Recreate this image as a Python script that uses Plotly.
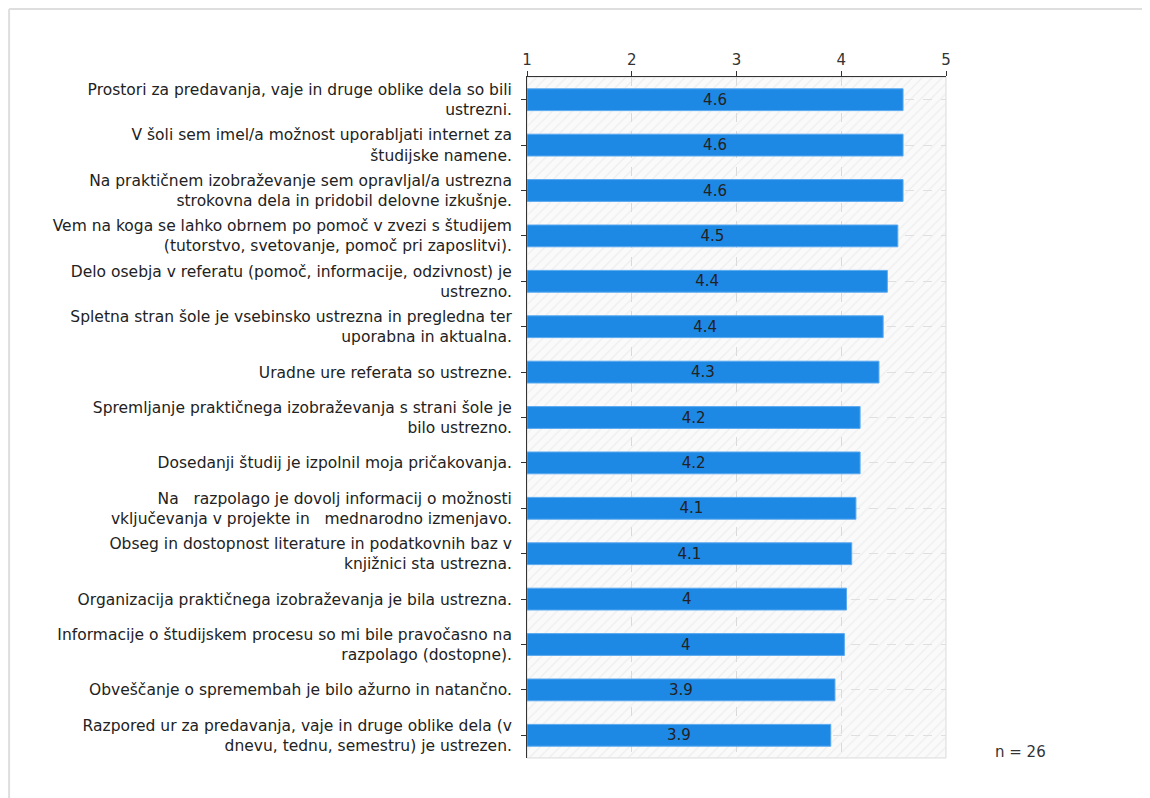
import plotly.graph_objects as go

categories = [
    "Prostori za predavanja, vaje in druge oblike dela so bili<br>ustrezni.",
    "V šoli sem imel/a možnost uporabljati internet za<br>študijske namene.",
    "Na praktičnem izobraževanje sem opravljal/a ustrezna<br>strokovna dela in pridobil delovne izkušnje.",
    "Vem na koga se lahko obrnem po pomoč v zvezi s študijem<br>(tutorstvo, svetovanje, pomoč pri zaposlitvi).",
    "Delo osebja v referatu (pomoč, informacije, odzivnost) je<br>ustrezno.",
    "Spletna stran šole je vsebinsko ustrezna in pregledna ter<br>uporabna in aktualna.",
    "Uradne ure referata so ustrezne.",
    "Spremljanje praktičnega izobraževanja s strani šole je<br>bilo ustrezno.",
    "Dosedanji študij je izpolnil moja pričakovanja.",
    "Na   razpolago je dovolj informacij o možnosti<br>vključevanja v projekte in   mednarodno izmenjavo.",
    "Obseg in dostopnost literature in podatkovnih baz v<br>knjižnici sta ustrezna.",
    "Organizacija praktičnega izobraževanja je bila ustrezna.",
    "Informacije o študijskem procesu so mi bile pravočasno na<br>razpolago (dostopne).",
    "Obveščanje o spremembah je bilo ažurno in natančno.",
    "Razpored ur za predavanja, vaje in druge oblike dela (v<br>dnevu, tednu, semestru) je ustrezen.",
]
values = [4.59, 4.59, 4.59, 4.54, 4.44, 4.40, 4.36, 4.18, 4.18, 4.14, 4.10, 4.05, 4.03, 3.94, 3.90]
labels = ["4.6", "4.6", "4.6", "4.5", "4.4", "4.4", "4.3", "4.2", "4.2", "4.1", "4.1", "4", "4", "3.9", "3.9"]
x_ticks = [1, 2, 3, 4, 5]
scale_min, scale_max = 1, 5
n_text = "n = 26"

FONT = "DejaVu Sans"

fig = go.Figure()

# hatched background band (decoration)
fig.add_trace(go.Bar(
    y=categories,
    x=[scale_max - scale_min] * len(categories),
    base=scale_min,
    orientation="h",
    width=1,
    marker=dict(
        color="rgba(0,0,0,0.02)",
        line=dict(width=0),
        pattern=dict(shape="/", fgcolor="#e2e2e2", bgcolor="rgba(0,0,0,0.02)",
                     size=7, solidity=0.18),
    ),
    hoverinfo="skip",
    showlegend=False,
))

fig.add_trace(go.Bar(
    y=categories,
    x=[v - scale_min for v in values],
    base=scale_min,
    orientation="h",
    width=0.48,
    marker=dict(color="#1e88e5", line=dict(color="#5aa9ef", width=1)),
    text=labels,
    textposition="inside",
    insidetextanchor="middle",
    textangle=0,
    constraintext="none",
    textfont=dict(family=FONT, size=15, color="#222222"),
    showlegend=False,
))

fig.update_layout(
    width=1142, height=790,
    margin=dict(l=519, r=204, t=69, b=40),
    paper_bgcolor="white",
    plot_bgcolor="white",
    barmode="overlay",
    font=dict(family=FONT, size=15, color="#333333"),
    xaxis=dict(
        side="top",
        range=[scale_min, scale_max],
        tickvals=x_ticks,
        ticktext=[str(t) for t in x_ticks],
        showline=True, linecolor="#333333", linewidth=1,
        ticks="outside", ticklen=5, tickcolor="#333333",
        showgrid=True, gridcolor="#dddddd", griddash="dash", gridwidth=1,
        zeroline=False,
        tickfont=dict(family=FONT, size=15, color="#333333"),
        fixedrange=True,
    ),
    yaxis=dict(
        type="category",
        range=[len(categories) - 0.5, -0.5],
        showline=True, linecolor="#333333", linewidth=1,
        ticks="outside", ticklen=5, tickcolor="#333333",
        showgrid=True, gridcolor="#e3e3e3", griddash="dash", gridwidth=1,
        ticklabelstandoff=6,
        tickfont=dict(family=FONT, size=15.5, color="#222222"),
        fixedrange=True,
    ),
    shapes=[
        # plot area light frame (right & bottom)
        dict(type="rect", xref="paper", yref="paper", x0=0, y0=0, x1=1, y1=1,
             line=dict(color="#dddddd", width=1), layer="below"),
        # outer chart frame: left and top edges only
        dict(type="line", xref="paper", yref="paper", x0=-1.236, y0=-0.2, x1=-1.236, y1=1.0999,
             line=dict(color="#dedede", width=2), layer="below"),
        dict(type="line", xref="paper", yref="paper", x0=-1.236, y0=1.0999, x1=1.7, y1=1.0999,
             line=dict(color="#dedede", width=2), layer="below"),
    ],
    annotations=[
        dict(text=n_text, xref="paper", yref="paper", x=1.112, y=0.009,
             xanchor="left", yanchor="middle", showarrow=False,
             font=dict(family=FONT, size=15, color="#333333")),
    ],
)

fig.write_html("out.html")
